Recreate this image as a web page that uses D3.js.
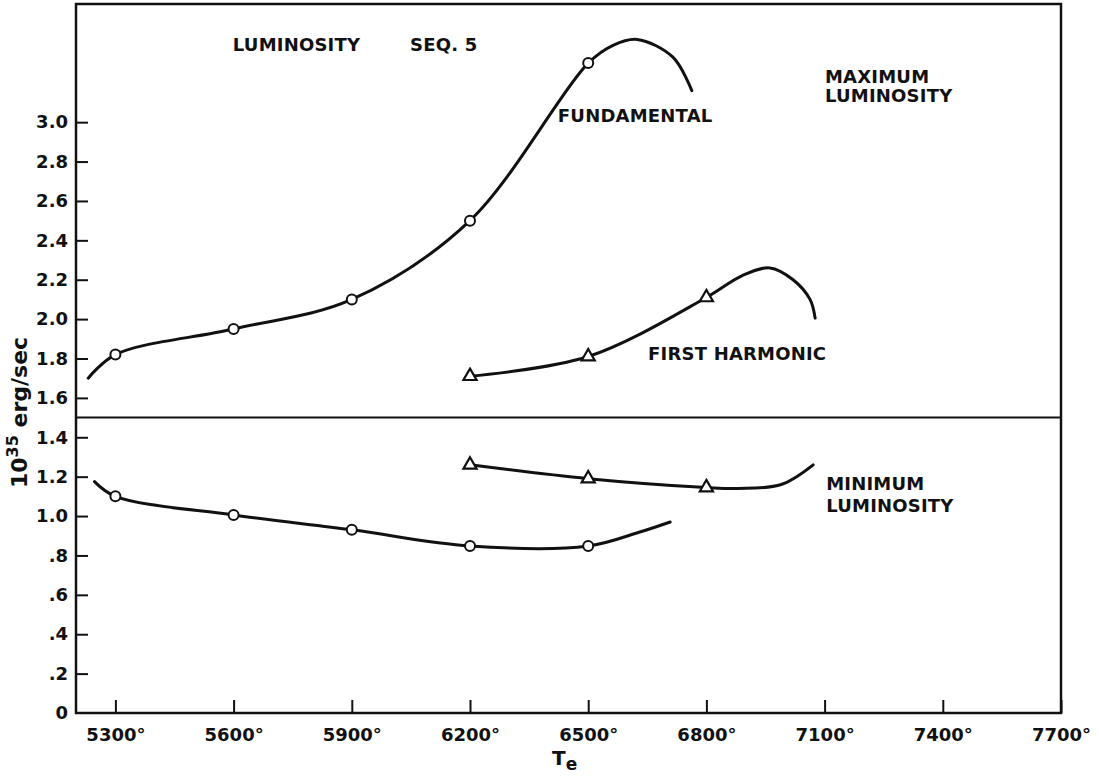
<!DOCTYPE html>
<html>
<head>
<meta charset="utf-8">
<script src="https://cdn.jsdelivr.net/npm/d3@7"></script>
<style>
  html, body { margin: 0; padding: 0; background: #fff; }
  svg { display: block; }
  text { font-family: "DejaVu Sans", "Liberation Sans", sans-serif; font-weight: bold; fill: #111; }
</style>
</head>
<body>
<svg id="chart" width="1099" height="778"></svg>
<script>
// Effective temperature (K) of the computed models
const temps = [5300, 5600, 5900, 6200, 6500, 6800];

// Luminosity in units of 10^35 erg/sec
const fundMaxLum = [1.82, 1.95, 2.10, 2.50, 3.30];      // fundamental, maximum light
const fundMinLum = [1.10, 1.005, 0.93, 0.848, 0.848];   // fundamental, minimum light
const harmTemps = [6200, 6500, 6800];
const harmMaxLum = [1.71, 1.81, 2.11];                   // first harmonic, maximum light
const harmMinLum = [1.26, 1.19, 1.145];                  // first harmonic, minimum light

// Hand-drawn continuation of each curve beyond the computed models [Te, L]
const fundMaxLead = [[5231, 1.70]];
const fundMaxTail = [[6563, 3.39], [6624, 3.42], [6715, 3.33], [6763, 3.16]];
const fundMinLead = [[5247, 1.175]];
const fundMinTail = [[6631, 0.919], [6708, 0.97]];
const harmMaxTail = [[6890, 2.22], [6961, 2.26], [7020, 2.20], [7063, 2.10], [7076, 2.005]];
const harmMinTail = [[6880, 1.14], [6990, 1.16], [7071, 1.26]];

// Axis ticks
const xTicks = [5300, 5600, 5900, 6200, 6500, 6800, 7100, 7400, 7700];
const yTicks = [0, 0.2, 0.4, 0.6, 0.8, 1.0, 1.2, 1.4, 1.6, 1.8, 2.0, 2.2, 2.4, 2.6, 2.8, 3.0];
const divider = 1.5;   // separates the maximum and minimum light panels

// Annotations [text, Te position, L position]
const notes = [
  ["LUMINOSITY", 5598, 3.36],
  ["SEQ. 5", 6048, 3.36],
  ["FUNDAMENTAL", 6423, 3.00],
  ["MAXIMUM", 7101, 3.20],
  ["LUMINOSITY", 7101, 3.10],
  ["FIRST HARMONIC", 6652, 1.79],
  ["MINIMUM", 7104, 1.13],
  ["LUMINOSITY", 7104, 1.02]
];

const svg = d3.select("#chart");
const plotL = 76, plotR = 1061, plotT = 4, plotB = 713;

const x = d3.scaleLinear().domain([5200, 7700]).range([plotL, plotR]);
const y = d3.scaleLinear().domain([0, 3.6]).range([plotB, plotT]);

// Axes with inward ticks
const yFmt = d => d === 0 ? "0" : (d < 1 ? d3.format(".1f")(d).replace(/^0/, "") : d3.format(".1f")(d));
const yAxis = svg.append("g")
  .attr("transform", `translate(${plotL},0)`)
  .call(d3.axisLeft(y).tickValues(yTicks).tickSize(-12).tickPadding(8).tickFormat(yFmt));
const xAxis = svg.append("g")
  .attr("transform", `translate(0,${plotB})`)
  .call(d3.axisBottom(x).tickValues(xTicks).tickSize(-13).tickPadding(15).tickFormat(d => d + "°"));
[yAxis, xAxis].forEach(g => {
  g.select(".domain").remove();
  g.selectAll(".tick line").attr("stroke", "#111").attr("stroke-width", 2);
  g.selectAll(".tick text").style("font-size", "18px").attr("fill", "#111");
});
yAxis.selectAll(".tick").filter(d => d === 0).select("line").remove();

// Frame and panel divider
svg.append("rect")
  .attr("x", plotL).attr("y", plotT)
  .attr("width", plotR - plotL).attr("height", plotB - plotT)
  .attr("fill", "none").attr("stroke", "#111").attr("stroke-width", 2.5);
svg.append("line")
  .attr("x1", plotL).attr("x2", plotR)
  .attr("y1", y(divider)).attr("y2", y(divider))
  .attr("stroke", "#111").attr("stroke-width", 2);

// Curves
const line = d3.line().x(d => x(d[0])).y(d => y(d[1])).curve(d3.curveCatmullRom.alpha(0.5));
const fundMaxPts = fundMaxLum.map((v, i) => [temps[i], v]);
const fundMinPts = fundMinLum.map((v, i) => [temps[i], v]);
const harmMaxPts = harmMaxLum.map((v, i) => [harmTemps[i], v]);
const harmMinPts = harmMinLum.map((v, i) => [harmTemps[i], v]);

const curves = [
  fundMaxLead.concat(fundMaxPts, fundMaxTail),
  fundMinLead.concat(fundMinPts, fundMinTail),
  harmMaxPts.concat(harmMaxTail),
  harmMinPts.concat(harmMinTail)
];
svg.append("g").selectAll("path").data(curves).join("path")
  .attr("d", line)
  .attr("fill", "none").attr("stroke", "#111")
  .attr("stroke-width", 3).attr("stroke-linecap", "round");

// Markers: circles for the fundamental, triangles for the first harmonic
svg.append("g").selectAll("circle").data(fundMaxPts.concat(fundMinPts)).join("circle")
  .attr("cx", d => x(d[0])).attr("cy", d => y(d[1])).attr("r", 5)
  .attr("fill", "#fff").attr("stroke", "#111").attr("stroke-width", 2);
const tri = d3.symbol().type(d3.symbolTriangle).size(75);
svg.append("g").selectAll("path").data(harmMaxPts.concat(harmMinPts)).join("path")
  .attr("d", tri)
  .attr("transform", d => `translate(${x(d[0])},${y(d[1])})`)
  .attr("fill", "#fff").attr("stroke", "#111").attr("stroke-width", 2.2);

// Annotations
svg.append("g").selectAll("text").data(notes).join("text")
  .attr("x", d => x(d[1])).attr("y", d => y(d[2]))
  .style("font-size", "18px")
  .style("letter-spacing", "0.2px")
  .text(d => d[0]);

// Axis titles
const yt = svg.append("text")
  .attr("transform", "translate(27,488) rotate(-90)")
  .attr("text-anchor", "start")
  .style("font-size", "22px");
yt.append("tspan").text("10");
yt.append("tspan").attr("dy", -9).style("font-size", "16px").text("35");
yt.append("tspan").attr("dy", 9).text(" erg/sec");

const xt = svg.append("text")
  .attr("x", 552).attr("y", 765)
  .style("font-size", "20px");
xt.append("tspan").text("T");
xt.append("tspan").attr("dy", 5).style("font-size", "17px").text("e");
</script>
</body>
</html>
